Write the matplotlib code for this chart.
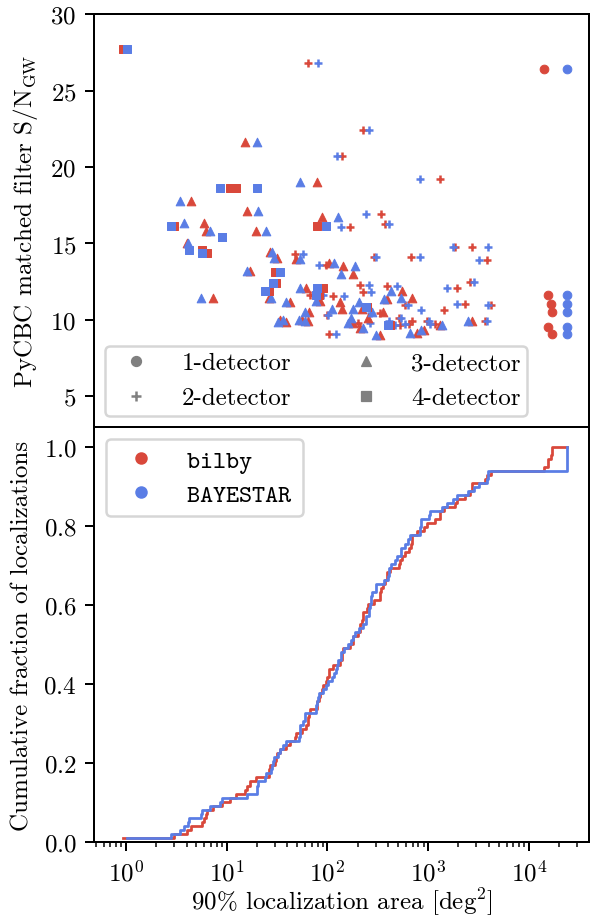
"""
Sky localization comparison: bilby vs. BAYESTAR.

Top: matched-filter S/N against 90% localization area, marker by number
of detectors. Bottom: cumulative distribution of the 90% areas.
"""

import matplotlib.pyplot as plt
import numpy as np
from matplotlib.lines import Line2D

plt.rcParams.update({
    "font.family": "serif",
    "font.serif": ["cmr10"],
    "mathtext.fontset": "cm",
    "axes.formatter.use_mathtext": True,
    "axes.unicode_minus": False,
    "font.size": 10,
})

BILBY_COLOR = "#d9483b"
BAYESTAR_COLOR = "#5a7de5"

# 1-detector events
snr_1det = [26.4, 11.6, 11.05, 10.5, 9.55, 9.05]
bilby_1det = [14200, 15500, 16600, 17000, 15500, 17000]
bayestar_1det = [24000, 24000, 24000, 24000, 24000, 24000]

# 2-detector events
snr_2det = [26.8, 22.4, 20.7, 19.2, 16.9, 16.25, 16.05, 14.75, 14.75, 14.1,
            14.1, 13.9, 14.3, 13.6, 12.45, 12.1, 12.2, 12.25, 11.8, 11.65,
            11.55, 11.05, 10.95, 10.95, 10.65, 10.35, 9.95, 10.1, 9.95, 9.75,
            9.9, 9.65, 9.7, 9.8, 10.45, 9.05]
bilby_2det = [64, 226, 140, 1300, 342, 375, 169, 1850, 2740, 291,
              679, 3870, 48, 97, 2620, 1940, 393, 211, 226, 67,
              114, 2330, 4200, 592, 1450, 99, 3700, 517, 977, 1170,
              695, 529, 649, 201, 334, 104]
bayestar_2det = [81, 260, 125, 833, 243, 412, 137, 1770, 3960, 305,
                 833, 3200, 57, 83, 2860, 1540, 494, 260, 272, 91,
                 147, 1940, 3960, 635, 852, 102, 3870, 541, 1020, 1050,
                 412, 472, 592, 266, 272, 122]

# 3-detector events
snr_3det = [21.65, 19.0, 17.8, 17.1, 16.7, 16.35, 15.8, 15.8, 15.0, 14.45,
            14.05, 13.95, 13.7, 13.2, 13.5, 13.0, 11.9, 11.4, 11.45, 11.4,
            11.35, 11.2, 11.25, 12.1, 11.2, 10.7, 10.7, 10.5, 9.85, 10.0,
            10.0, 9.9, 9.8, 10.1, 9.45, 9.65, 9.35, 9.15, 9.9, 9.0, 10.5]
bilby_3det = [15.2, 79, 4.4, 15.9, 89, 6.0, 19.5, 6.2, 4.0, 26.9,
              31.6, 48.8, 104, 17, 144, 181, 554, 7.3, 26.3, 695,
              393, 42.5, 84.8, 61.6, 134, 140, 221, 65.8, 38.8, 34,
              56, 64.3, 181, 254, 211, 1300, 912, 776, 2740, 334, 358]
bayestar_3det = [20, 53.4, 3.4, 20.5, 128, 3.8, 24.5, 6.8, 4.1, 28.2,
                 29.5, 53.4, 116, 15.9, 189, 137, 431, 5.6, 27.5, 541,
                 367, 38.8, 77.2, 53.4, 206, 111, 181, 60, 32.3, 36.3,
                 52.2, 60, 161, 173, 226, 1380, 852, 664, 2500, 305, 279]

# 4-detector events
snr_4det = [27.7, 18.65, 18.65, 16.15, 16.15, 15.4, 14.6, 14.35, 13.1, 12.4,
            11.9, 12.1, 11.6, 10.85, 9.65]
bilby_4det = [0.93, 10.8, 12.4, 3.0, 79, 9.0, 5.7, 6.4, 30, 31,
              26, 91, 83, 248, 421]
bayestar_4det = [1.02, 8.6, 20, 2.8, 97, 9.0, 4.2, 5.7, 34, 29,
                 24, 79, 77, 243, 402]

groups = [
    ("1-detector", "o", snr_1det, bilby_1det, bayestar_1det),
    ("2-detector", "+", snr_2det, bilby_2det, bayestar_2det),
    ("3-detector", "^", snr_3det, bilby_3det, bayestar_3det),
    ("4-detector", "s", snr_4det, bilby_4det, bayestar_4det),
]

fig = plt.figure(figsize=(593 / 180, 917 / 180), dpi=180)
ax1 = fig.add_axes([0.1585, 0.5333, 0.8348, 0.4503])
ax2 = fig.add_axes([0.1585, 0.0807, 0.8348, 0.4526], sharex=ax1)

# Scatter of S/N vs. area
for label, marker, snr, bilby, bayestar in groups:
    for areas, color in ((bilby, BILBY_COLOR), (bayestar, BAYESTAR_COLOR)):
        ax1.scatter(areas, snr, marker=marker, color=color, s=12,
                    linewidths=1.0 if marker == "+" else 0.4,
                    edgecolors=color if marker != "+" else None)

det_handles = [
    Line2D([], [], marker=marker, color="gray", linestyle="", markersize=4,
           markeredgewidth=1.0 if marker == "+" else 0.5, label=label)
    for label, marker, *_ in groups
]
ax1.legend(handles=det_handles, ncol=2, loc="lower left",
           borderpad=0.25, borderaxespad=0.45)
ax1.set_ylabel(r"PyCBC matched filter S/N$_{\rm GW}$")
ax1.set_ylim(3, 30)
ax1.set_yticks([5, 10, 15, 20, 25, 30])
ax1.tick_params(axis="x", which="both", bottom=False, labelbottom=False)

# Cumulative distributions
all_bilby = np.concatenate([g[3] for g in groups])
all_bayestar = np.concatenate([g[4] for g in groups])
x_end = max(all_bilby.max(), all_bayestar.max())

for areas, color in ((all_bilby, BILBY_COLOR), (all_bayestar, BAYESTAR_COLOR)):
    xs = np.sort(areas)
    ys = np.arange(1, len(xs) + 1) / len(xs)
    xs = np.append(xs, x_end)
    ys = np.append(ys, 1.0)
    ax2.step(xs, ys, where="post", color=color, linewidth=1.1)

src_handles = [
    Line2D([], [], marker="o", color=BILBY_COLOR, linestyle="", markersize=4,
           label=r"$\mathtt{bilby}$"),
    Line2D([], [], marker="o", color=BAYESTAR_COLOR, linestyle="",
           markersize=4, label=r"$\mathtt{BAYESTAR}$"),
]
ax2.legend(handles=src_handles, loc="upper left", labelspacing=0.35)
ax2.set_xscale("log")
ax2.set_xlim(0.48, 39600)
ax2.set_ylim(0, 1.05)
ax2.set_yticks([0.0, 0.2, 0.4, 0.6, 0.8, 1.0])
ax2.set_xlabel(r"90% localization area [deg$^2$]", labelpad=0)
ax2.set_ylabel("Cumulative fraction of localizations")

fig.align_ylabels([ax1, ax2])
fig.savefig("out.png", dpi=180)
